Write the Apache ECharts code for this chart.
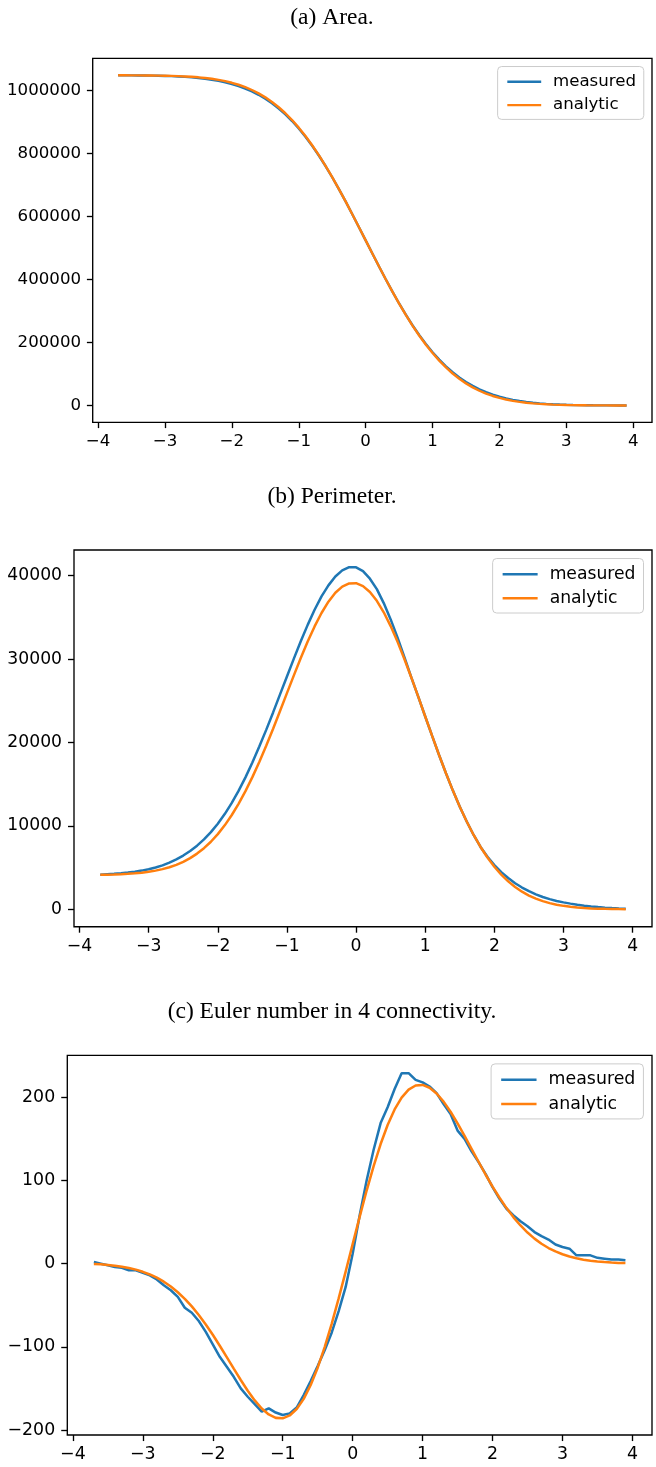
<!DOCTYPE html>
<html><head><meta charset="utf-8">
<script src="https://cdn.jsdelivr.net/npm/echarts@6/dist/echarts.min.js"></script>
<style>html,body{margin:0;padding:0;background:#fff}#c{width:656px;height:1467px}</style>
</head><body><div id="c"></div>
<script>
// ---- data ----
const thresholds = [-3.7,-3.6,-3.5,-3.4,-3.3,-3.2,-3.1,-3.0,-2.9,-2.8,-2.7,-2.6,-2.5,-2.4,-2.3,-2.2,-2.1,-2.0,-1.9,-1.8,-1.7,-1.6,-1.5,-1.4,-1.3,-1.2,-1.1,-1.0,-0.9,-0.8,-0.7,-0.6,-0.5,-0.4,-0.3,-0.2,-0.1,0.0,0.1,0.2,0.3,0.4,0.5,0.6,0.7,0.8,0.9,1.0,1.1,1.2,1.3,1.4,1.5,1.6,1.7,1.8,1.9,2.0,2.1,2.2,2.3,2.4,2.5,2.6,2.7,2.8,2.9,3.0,3.1,3.2,3.3,3.4,3.5,3.6,3.7,3.8,3.9];

const areaMeasured = [1048413,1048329,1048212,1048053,1047820,1047506,1047081,1046510,
  1045769,1044797,1043540,1041938,1039964,1037479,1034431,1030697,1026144,1020720,
  1014163,1006400,997245,986514,974023,959595,943073,924315,903219,879613,
  853574,824929,793858,760400,724750,687159,647926,607398,566050,524288,
  482526,441178,400650,361417,323826,288176,254718,223647,195002,168963,
  145357,124261,105503,88981,74553,62062,51331,42176,34413,27856,
  22432,17879,14145,11097,8612,6638,5036,3779,2807,2066,
  1495,1070,756,523,364,247,163,111,70];
const areaAnalytic = [1048463,1048409,1048332,1048223,1048070,1047856,1047561,1047160,
  1046619,1045897,1044940,1043688,1042064,1039979,1037331,1033997,1029844,1024720,
  1018463,1010900,1001845,991114,978523,963895,947073,927915,906319,882213,
  855574,826429,794858,761000,725050,687259,647926,607398,566050,524288,
  482526,441178,400650,361317,323526,287576,253718,222147,193002,166363,
  142257,120661,101503,84681,70053,57462,46731,37676,30113,23856,
  18732,14579,11245,8597,6512,4888,3636,2679,1957,1416,
  1015,720,506,353,244,167,113,76,50];

const perimeterMeasured = [4135,4202,4256,4329,4414,4515,4645,4803,
  5021,5271,5600,5989,6449,6992,7633,8383,9258,10267,
  11422,12731,14199,15823,17600,19520,21515,23609,25772,27918,
  30054,32132,34104,35920,37529,38837,39901,40639,41026,40998,
  40550,39639,38385,36713,34761,32570,30190,27772,25466,23122,
  20788,18505,16312,14236,12302,10526,8918,7479,6312,5307,
  4458,3751,3125,2614,2173,1801,1482,1226,1011,838,
  687,555,442,345,272,207,159,117,79];
const perimeterAnalytic = [4135,4152,4176,4209,4254,4315,4395,4503,
  4641,4821,5050,5339,5699,6142,6683,7333,8108,9017,
  10072,11281,12649,14173,15850,17670,19615,21659,23772,25918,
  28054,30132,32104,33920,35529,36887,37951,38689,39076,39098,
  38750,38039,36985,35613,33961,32070,29990,27772,25466,23122,
  20788,18505,16312,14236,12302,10526,8918,7479,6212,5107,
  4158,3351,2675,2114,1653,1281,982,746,561,418,
  307,225,162,115,82,57,39,27,19];

const eulerMeasured = [2,0,-2,-4,-5,-8,-8,-11,
  -14,-19,-26,-32,-40,-53,-59,-69,-82,-97,
  -112,-124,-136,-150,-160,-169,-178,-174,-179,-182,
  -180,-173,-158,-141,-123,-104,-83,-57,-28,12,
  58,100,137,169,188,210,229,229,221,218,
  213,205,192,180,160,150,135,122,108,92,
  78,66,58,51,45,38,33,29,23,20,
  18,10,10,10,7,6,5,5,4];
const eulerAnalytic = [-0.3,-0.8,-1.5,-2.4,-3.6,-5.2,-7.2,-9.8,
  -13.0,-16.9,-21.7,-27.5,-34.4,-42.3,-51.4,-61.7,-73.1,-85.5,
  -98.7,-112.4,-126.3,-139.9,-152.8,-164.4,-174.1,-181.3,-185.4,-186.0,
  -182.5,-174.8,-162.6,-145.9,-125.1,-100.3,-72.3,-41.8,-9.5,23.5,
  56.3,87.9,117.3,143.8,166.7,185.4,199.6,209.2,214.2,214.9,
  211.5,204.6,194.8,182.6,168.7,153.7,138.1,122.5,107.2,92.7,
  79.2,66.8,55.7,45.9,37.4,30.1,23.9,18.8,14.7,11.3,
  8.6,6.5,4.8,3.5,2.6,1.9,1.3,0.9,0.7];

const xTicks = [-4,-3,-2,-1,0,1,2,3,4];
const areaTicks = [0,200000,400000,600000,800000,1000000];
const perimeterTicks = [0,10000,20000,30000,40000];
const eulerTicks = [-200,-100,0,100,200];
const titles = ['(a) Area.', '(b) Perimeter.', '(c) Euler number in 4 connectivity.'];
const seriesNames = ['measured', 'analytic'];

// ---- layout ----
const BLUE = '#1f77b4', ORANGE = '#ff7f0e';
const panels = [
  {grid:{left:92.7, top:58.3, width:559.3, height:364}, ylim:[-53500,1102500], yt:areaTicks, m:areaMeasured, a:areaAnalytic, s:0.968, titleY:17.5},
  {grid:{left:74, top:550, width:578, height:376.7}, ylim:[-2080,43080], yt:perimeterTicks, m:perimeterMeasured, a:perimeterAnalytic, s:1.0, titleY:497},
  {grid:{left:67.3, top:1055.3, width:584.7, height:379.7}, ylim:[-206,250.5], yt:eulerTicks, m:eulerMeasured, a:eulerAnalytic, s:1.01, titleY:1011.5}
];
const fmt = v => String(v).replace('-', '\u2212');
const FONT = '"DejaVu Sans", sans-serif';

const option = {
  animation: false,
  backgroundColor: '#fff',
  grid: [], xAxis: [], yAxis: [], series: [], legend: [], graphic: []
};
panels.forEach((p, i) => {
  const s = p.s, fs = 17.2 * s, lw = 2.5 * s, tk = 6 * s;
  option.grid.push(Object.assign({show:true, borderColor:'#000', borderWidth:1.35, backgroundColor:'transparent'}, p.grid));
  option.xAxis.push({
    type:'value', gridIndex:i, min:-4.08, max:4.28,
    splitLine:{show:false}, axisLine:{show:false, onZero:false},
    axisTick:{show:true, inside:false, customValues:xTicks, length:tk, lineStyle:{color:'#000', width:1.35}},
    axisLabel:{customValues:xTicks, formatter:fmt, margin:11 * s, color:'#000', fontFamily:FONT, fontSize:fs}
  });
  option.yAxis.push({
    type:'value', gridIndex:i, min:p.ylim[0], max:p.ylim[1],
    splitLine:{show:false}, axisLine:{show:false, onZero:false},
    axisTick:{show:true, inside:false, customValues:p.yt, length:tk, lineStyle:{color:'#000', width:1.35}},
    axisLabel:{customValues:p.yt, formatter:fmt, margin:12 * s, color:'#000', fontFamily:FONT, fontSize:fs}
  });
  option.series.push({
    name:seriesNames[0], type:'line', xAxisIndex:i, yAxisIndex:i, symbol:'none', showSymbol:false,
    data: thresholds.map((x, k) => [x, p.m[k]]), lineStyle:{color:BLUE, width:lw}, itemStyle:{color:BLUE}
  });
  option.series.push({
    name:seriesNames[1], type:'line', xAxisIndex:i, yAxisIndex:i, symbol:'none', showSymbol:false,
    data: thresholds.map((x, k) => [x, p.a[k]]), lineStyle:{color:ORANGE, width:lw}, itemStyle:{color:ORANGE}
  });
  option.legend.push({
    data: seriesNames, orient:'vertical',
    right: 656 - (p.grid.left + p.grid.width) + 8.5 * s, top: p.grid.top + 8.5 * s,
    icon:'rect', itemWidth:35 * s, itemHeight:lw, itemGap:6.5 * s,
    padding:[7 * s, 8 * s, 6 * s, 10 * s],
    borderColor:'#cccccc', borderWidth:1, borderRadius:4, backgroundColor:'rgba(255,255,255,0.8)',
    textStyle:{fontFamily:FONT, fontSize:fs, color:'#000', lineHeight:17.5 * s, padding:[0, 0, 0, 7 * s]},
    selectedMode:false
  });
  option.graphic.push({
    type:'text', x:332, y:p.titleY,
    style:{text:titles[i], font:'23.5px "Liberation Serif", serif', fill:'#000', textAlign:'center', textVerticalAlign:'middle'}
  });
});

const chart = echarts.init(document.getElementById('c'), null, {renderer:'canvas'});
chart.setOption(option);
</script>
</body></html>
